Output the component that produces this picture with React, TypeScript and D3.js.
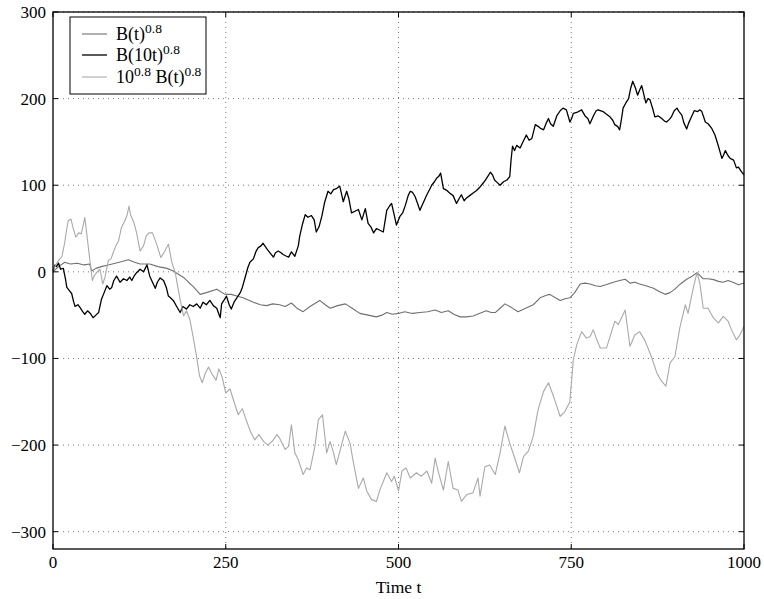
import React from "react";
import * as d3 from "d3";

// Sampled paths: time t and value for each process
const bT = [0,8,17,25,35,45,53,56,62,70,80,90,100,109,118,126,140,152,165,174,182,189,196,203,213,222,237,249,258,266,275,290,300,309,318,328,336,345,353,362,372,386,394,401,412,423,433,444,456,468,476,483,491,500,509,520,531,542,553,562,572,580,589,598,608,617,627,634,640,647,654,663,673,684,695,705,714,719,727,734,741,748,755,763,770,777,785,792,800,811,820,828,835,842,849,858,869,878,886,893,900,908,917,925,932,936,941,948,956,963,970,977,984,992,1000];
const bV = [0,6,11,9,10,8,9,1,4,6,8,10,12,14,11,9,9,6,4,1,-3,-6.5,-12,-17,-26,-24,-20,-26,-26,-28,-30,-35,-38,-39,-37,-38,-40,-36,-42,-46,-40,-33,-38,-42,-39,-37,-42,-48,-50,-52,-50,-47,-49,-48,-46,-48,-47,-46,-44,-47,-45,-49,-52,-52,-51,-48,-45,-47,-47,-42,-37,-41,-46,-42,-38,-30,-27,-26,-30,-33,-31,-30,-24,-14,-13,-14,-16,-17,-15,-12,-10,-8.5,-13,-12,-14,-16,-19,-23,-26,-24,-20,-14,-8.5,-5,-1,-4,-8,-8,-9,-11,-12,-10,-12,-15,-13];

const b10T = [0,3,5,8,11,15,18,20,24,27,30,32,36,39,43,46,50,54,58,62,66,70,74,78,82,85,88,92,97,102,107,111,114,118,121,126,131,136,140,144,148,151,155,160,164,167,170,174,179,184,188,193,198,203,208,213,217,222,227,232,237,242,244,248,251,255,258,262,266,271,274,278,282,285,290,294,297,301,304,309,314,319,322,326,330,333,338,341,345,350,355,357,361,365,369,374,378,381,385,389,393,398,402,406,410,415,420,425,428,432,437,442,447,452,456,460,464,468,473,478,483,487,490,494,497,502,506,510,514,517,520,524,528,531,536,541,545,548,552,555,558,561,563,565,570,574,579,584,588,591,595,598,603,608,613,618,622,625,629,633,636,639,643,647,652,657,661,663,665,668,671,676,680,685,689,693,698,702,705,710,714,717,720,724,729,734,738,743,748,751,753,758,765,770,774,777,782,786,789,796,801,806,810,813,817,820,823,825,829,833,836,839,843,846,849,852,855,858,861,864,868,871,876,881,885,888,892,895,899,903,906,910,913,917,920,924,928,933,936,939,942,944,948,953,958,963,968,970,973,977,980,985,989,992,996,1000];
const b10V = [1,8,6,10,3,4,-8,-18,-22,-25,-35,-40,-38,-41,-46,-49,-45,-48,-53,-50,-47,-32,-24,-16,-20,-18,-10,-5,-12,-8,-10,-6,-10,-4,-1,3,0,8,-5,-12,-19,-12,-7,-10,-18,-28,-30,-33,-40,-47,-40,-43,-38,-40,-37,-42,-35,-38,-33,-39,-42,-53,-37,-32,-28,-38,-43,-35,-30,-24,-18,-6.5,5,11,15,24,28,30,33,27,22,17,22,24,22,20,18,17,23,18,30,41,55,66,63,65,60,46,52,64,80,93,90,95,96,99,81,93,85,68,70,72,60,73,56,52,45,50,48,46,71,76,79,65,54,64,68,77,88,93,92,87,78,71,80,89,95,100,104,108,110,114,105,96,94,91,88,79,85,89,82,85,88,91,94,98,102,105,110,115,112,106,103,100,104,106,110,130,145,140,146,143,150,158,152,154,170,168,166,164,172,177,171,168,180,186,189,187,173,178,183,184,187,180,177,171,180,186,187,185,182,179,175,170,168,164,178,189,195,200,212,220,212,204,210,215,205,195,200,198.5,188,179,180,177,174,173,176,179,186,189,185,181,172,165,172,179,186,185,187,185,178,173,171,166,158,145,131,134,140,134,131,129,120,121,116,112];

const b08T = [0,4,8,13,17,20,22,26,29,33,37,41,44,46,49,54,57,60,63,68,72,75,80,84,87,91,95,99,104,107,110,112,117,121,126,131,135,139,144,150,156,162,167,172,177,180,184,189,193,198,203,208,212,216,220,225,230,236,240,245,250,256,262,268,274,280,286,292,298,305,311,318,324,328,336,341,345,350,355,362,367,372,379,384,390,396,401,406,410,417,423,430,434,442,449,454,461,468,473,483,490,494,500,505,511,517,526,533,541,548,553,558,565,572,579,586,591,599,608,615,618,625,632,640,647,654,661,669,675,681,688,695,702,710,717,724,734,741,748,753,758,765,772,777,782,787,792,801,806,813,818,828,835,842,849,857,866,874,881,887,893,900,907,915,919,927,932,936,941,948,956,963,970,977,982,989,994,1000];
const b08V = [1,8,13,18,34,50,59,61,51,40,45,44,55,63,43,9,-10,-4,-1,3,-14,-7,13,15,22,30,36,51,59,65,76,66.5,57,45,24,30,41.5,45,45,32,16.5,24,32,11,-1,-15,-32,-51,-45,-55,-76,-99,-120,-128,-118,-110,-118,-125,-112,-122,-140,-135,-150,-165,-158,-172,-185,-194,-188,-196,-200,-195,-188,-192,-205,-201.5,-176.5,-209,-217,-234,-226.5,-228.5,-201.5,-171,-165,-209,-196,-209,-222.5,-201.5,-184,-198,-217,-250,-238,-253,-263,-265,-252,-232,-242,-236,-253,-230,-226.5,-238,-232,-236,-230,-244,-215,-232,-252,-219,-250,-252,-265,-257,-255,-238,-259,-225,-223,-234,-209,-178,-198,-217,-232,-213,-207,-190,-159,-138,-128,-143,-167,-161,-150,-101.5,-84,-69,-76.5,-75,-67,-78.5,-88,-88,-75,-57,-61,-44,-86,-73,-69,-80,-98,-117,-126.5,-132,-105,-98,-65,-38,-48,-17,-1,-13,-42,-42,-53.5,-59,-51.5,-57,-67,-78.5,-73,-63];

const xTicks = [0, 250, 500, 750, 1000];
const yTicks = [-300, -200, -100, 0, 100, 200, 300];

const W = 764;
const H = 599;
const plot = { left: 53, right: 744, top: 12, bottom: 549 };

const x = d3.scaleLinear().domain([0, 1000]).range([plot.left, plot.right]);
const y = d3.scaleLinear().domain([-320, 300]).range([plot.bottom, plot.top]);

const series = [
  { t: bT, v: bV, color: "#707070", width: 1.1 },
  { t: b10T, v: b10V, color: "#000000", width: 1.3 },
  { t: b08T, v: b08V, color: "#a9a9a9", width: 1.1 },
];

const pathOf = (t: number[], v: number[]) =>
  d3.line<number>().x((_, i) => x(t[i])).y((d) => y(d))(v) || "";

const font = "'Liberation Serif', 'Times New Roman', serif";

export default function App() {
  const tick = 5;
  const sup = 13.5;
  return (
    <svg width={W} height={H} style={{ position: "absolute", left: 0, top: 0, background: "#fff", fontFamily: font }}>
      {/* grid */}
      {xTicks.slice(1, -1).map((t) => (
        <line key={"gx" + t} x1={x(t)} x2={x(t)} y1={plot.top} y2={plot.bottom} stroke="#777" strokeWidth={1} strokeDasharray="1,4" />
      ))}
      {yTicks.map((t) => (
        <line key={"gy" + t} x1={plot.left} x2={plot.right} y1={y(t)} y2={y(t)} stroke="#777" strokeWidth={1} strokeDasharray="1,4" />
      ))}

      {/* data */}
      {series.map((s, i) => (
        <path key={i} d={pathOf(s.t, s.v)} fill="none" stroke={s.color} strokeWidth={s.width} strokeLinejoin="round" />
      ))}

      {/* frame and ticks */}
      <rect x={plot.left} y={plot.top} width={plot.right - plot.left} height={plot.bottom - plot.top} fill="none" stroke="#000" strokeWidth={1.3} />
      {xTicks.map((t) => (
        <g key={"tx" + t}>
          <line x1={x(t)} x2={x(t)} y1={plot.bottom} y2={plot.bottom - tick} stroke="#000" />
          <line x1={x(t)} x2={x(t)} y1={plot.top} y2={plot.top + tick} stroke="#000" />
          <text x={x(t)} y={568} fontSize={17} textAnchor="middle">{t}</text>
        </g>
      ))}
      {yTicks.map((t) => (
        <g key={"ty" + t}>
          <line x1={plot.left} x2={plot.left + tick} y1={y(t)} y2={y(t)} stroke="#000" />
          <line x1={plot.right} x2={plot.right - tick} y1={y(t)} y2={y(t)} stroke="#000" />
          <text x={46} y={y(t) + 6} fontSize={17} textAnchor="end">{t < 0 ? "\u2212" + Math.abs(t) : t}</text>
        </g>
      ))}
      <text x={(plot.left + plot.right) / 2} y={593} fontSize={17.5} textAnchor="middle">Time t</text>

      {/* legend */}
      <rect x={70} y={17} width={136} height={77} fill="#fff" stroke="#000" strokeWidth={1} />
      {[
        { color: series[0].color, w: series[0].width, yy: 34, label: (<><tspan>B(t)</tspan><tspan fontSize={sup} dy={-7}>0.8</tspan></>) },
        { color: series[1].color, w: series[1].width, yy: 55, label: (<><tspan>B(10t)</tspan><tspan fontSize={sup} dy={-7}>0.8</tspan></>) },
        { color: series[2].color, w: series[2].width, yy: 77, label: (<><tspan>10</tspan><tspan fontSize={sup} dy={-7}>0.8</tspan><tspan dy={7}> B(t)</tspan><tspan fontSize={sup} dy={-7}>0.8</tspan></>) },
      ].map((r, i) => (
        <g key={"lg" + i}>
          <line x1={82} x2={107} y1={r.yy} y2={r.yy} stroke={r.color} strokeWidth={r.w} />
          <text x={116} y={r.yy + 5.5} fontSize={18}>{r.label}</text>
        </g>
      ))}
    </svg>
  );
}
